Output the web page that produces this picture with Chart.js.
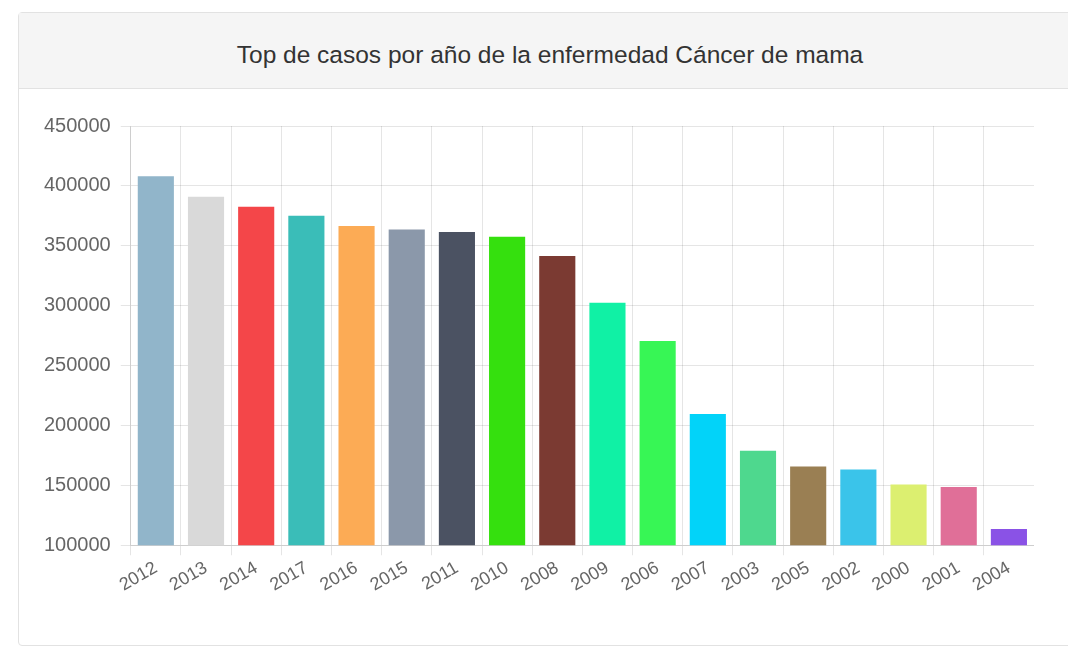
<!DOCTYPE html>
<html>
<head>
<meta charset="utf-8">
<script src="https://cdn.jsdelivr.net/npm/chart.js@4/dist/chart.umd.min.js"></script>
<style>
  body { margin: 0; background: #fff; font-family: "Liberation Sans", Arial, sans-serif; }
  .panel {
    position: absolute; left: 18px; top: 12px; width: 1062px; height: 632px;
    border: 1px solid #e2e2e2; border-radius: 4px; background: #fff;
  }
  .panel-heading {
    height: 75px; background: #f5f5f5; border-bottom: 1px solid #e2e2e2;
    text-align: center; line-height: 84px; font-size: 24.5px; color: #333;
  }
  .chart-container { position: absolute; left: 15px; top: 91px; width: 1000px; height: 494px; }
</style>
</head>
<body>
<div class="panel">
  <div class="panel-heading">Top de casos por año de la enfermedad Cáncer de mama</div>
  <div class="chart-container"><canvas id="topChart"></canvas></div>
</div>
<script>
var years = ["2012", "2013", "2014", "2017", "2016", "2015", "2011", "2010", "2008",
             "2009", "2006", "2007", "2003", "2005", "2002", "2000", "2001", "2004"];
var cases = [408000, 391000, 382500, 375000, 366500, 363500, 361500, 357500, 341500,
             302500, 270500, 209500, 179000, 165800, 163200, 150800, 148600, 113500];
var barColors = ["#91b5ca", "#d9d9d9", "#f44649", "#3abdb8", "#fcab55", "#8b98aa",
                 "#4b5262", "#35e00e", "#7b3a32", "#10f1a5", "#37f655", "#02d3f9",
                 "#4ed88e", "#9a7f53", "#3ac4ea", "#dcef70", "#e06f98", "#8a52e6"];

var ctx = document.getElementById("topChart").getContext("2d");
var chartInstance = new Chart(ctx, {
    type: "bar",
    data: {
        labels: years,
        datasets: [{
            label: "Casos",
            data: cases,
            backgroundColor: barColors,
            borderWidth: 0
        }]
    },
    options: {
        responsive: true,
        maintainAspectRatio: false,
        animation: false,
        plugins: { legend: { display: false }, tooltip: { enabled: false } },
        scales: {
            x: {
                ticks: {
                    color: "#666", padding: 2, autoSkip: false,
                    font: { size: 18, family: "Liberation Sans" },
                    minRotation: 30, maxRotation: 30
                },
                grid: { color: "rgba(0,0,0,0.1)", tickLength: 10 }
            },
            y: {
                min: 100000,
                max: 450000,
                ticks: {
                    stepSize: 50000, color: "#666", padding: 10,
                    font: { size: 20, family: "Liberation Sans" },
                    callback: function (value) { return value; }
                },
                grid: { color: "rgba(0,0,0,0.1)", tickLength: 10 }
            }
        }
    }
});
</script>
</body>
</html>
